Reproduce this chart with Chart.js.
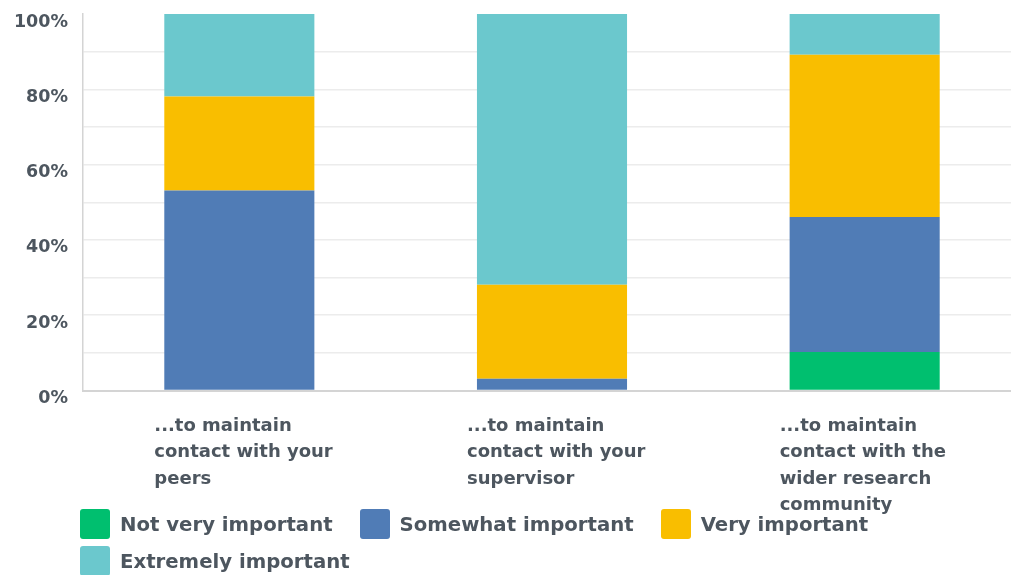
<!DOCTYPE html>
<html>
<head>
<meta charset="utf-8">
<script src="https://cdn.jsdelivr.net/npm/chart.js@4"></script>
<style>
  html, body { margin: 0; padding: 0; background: #fff; overflow: hidden; }
  .wrap { position: relative; width: 1021px; height: 575px; }
  #legend {
    position: absolute; left: 80px; top: 509px; width: 900px;
    display: flex; flex-wrap: wrap; row-gap: 7px; column-gap: 27px;
    font-family: "DejaVu Sans", sans-serif; font-weight: bold; font-size: 19.7px; color: #4d565f;
  }
  #legend .item { display: flex; align-items: center; height: 30px; }
  #legend .box { width: 30px; height: 30px; border-radius: 3px; margin-right: 10px; }
</style>
</head>
<body>
<div class="wrap">
  <canvas id="chart" width="1021" height="575"></canvas>
  <div id="legend"></div>
</div>
<script>
const categories = [
    ['...to maintain', 'contact with your', 'peers'],
    ['...to maintain', 'contact with your', 'supervisor'],
    ['...to maintain', 'contact with the', 'wider research', 'community']
];
const seriesNames = ['Not very important', 'Somewhat important', 'Very important', 'Extremely important'];
const notVery = [0, 0, 10.2];
const somewhat = [53.1, 3.1, 35.9];
const very = [25.0, 25.0, 43.1];
const extremely = [21.9, 71.9, 10.8];
const colors = ['#00bf6f', '#507cb6', '#f9be00', '#6bc8cd'];
const yTicks = [0, 20, 40, 60, 80, 100];

const textColor = '#4d565f';
const fontFamily = '"DejaVu Sans", sans-serif';

// draws the x labels as left-aligned blocks under each bar
const xLabelPlugin = {
    id: 'xLabels',
    afterDraw(chart) {
        const ctx = chart.ctx;
        const xScale = chart.scales.x;
        ctx.save();
        ctx.font = 'bold 18px ' + fontFamily;
        ctx.fillStyle = textColor;
        ctx.textAlign = 'left';
        ctx.textBaseline = 'middle';
        categories.forEach((lines, i) => {
            const x = xScale.getPixelForValue(i) - 85;
            lines.forEach((line, j) => {
                ctx.fillText(line, x, chart.chartArea.bottom + 36 + j * 26.3);
            });
        });
        ctx.restore();
    }
};

const htmlLegendPlugin = {
    id: 'htmlLegend',
    afterUpdate(chart) {
        const box = document.getElementById('legend');
        box.innerHTML = '';
        chart.options.plugins.legend.labels.generateLabels(chart).forEach(item => {
            const el = document.createElement('div');
            el.className = 'item';
            const sw = document.createElement('span');
            sw.className = 'box';
            sw.style.background = item.fillStyle;
            el.appendChild(sw);
            el.appendChild(document.createTextNode(item.text));
            box.appendChild(el);
        });
    }
};

const dataSets = [notVery, somewhat, very, extremely].map((values, i) => ({
    label: seriesNames[i],
    data: values,
    backgroundColor: colors[i],
    borderWidth: 0,
    barPercentage: 0.48,
    categoryPercentage: 1.0
}));

new Chart(document.getElementById('chart').getContext('2d'), {
    type: 'bar',
    data: {
        labels: categories.map(c => c.join(' ')),
        datasets: dataSets
    },
    options: {
        responsive: false,
        animation: false,
        layout: { padding: { top: 14, left: 0, right: 0, bottom: 0 } },
        plugins: {
            legend: { display: false },
            tooltip: { enabled: false }
        },
        scales: {
            x: {
                stacked: true,
                grid: { display: false, drawTicks: false },
                border: { color: '#d4d4d4', width: 2 },
                ticks: { display: false },
                afterFit(scale) { scale.height = 184.5; }
            },
            y: {
                stacked: true,
                min: 0,
                max: 100,
                grid: {
                    color: c => c.tick && c.tick.value === 100 ? 'rgba(0,0,0,0)' : '#ececec',
                    lineWidth: 1.5,
                    drawTicks: false
                },
                border: { color: '#d4d4d4', width: 1.5 },
                ticks: {
                    stepSize: 10,
                    padding: 15,
                    labelOffset: 8,
                    color: textColor,
                    font: { family: fontFamily, size: 17.5, weight: 'bold' },
                    callback: v => yTicks.includes(v) ? v + '%' : ''
                },
                afterFit(scale) {
                    scale.width = 83;
                    scale.paddingTop = 0;
                    scale.paddingBottom = 0;
                }
            }
        }
    },
    plugins: [xLabelPlugin, htmlLegendPlugin]
});
</script>
</body>
</html>
